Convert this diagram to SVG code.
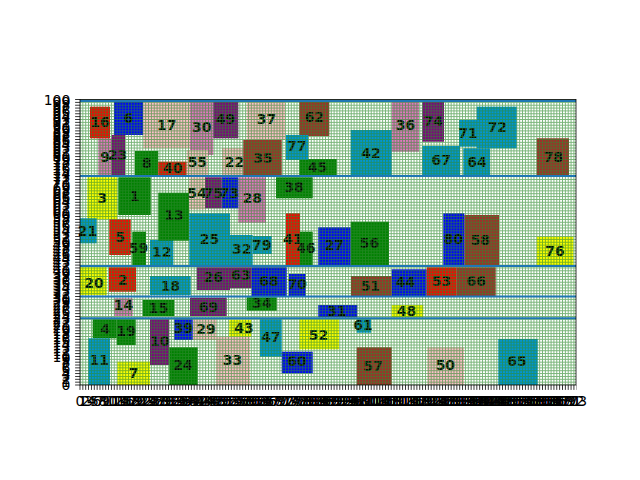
<svg xmlns="http://www.w3.org/2000/svg" width="640" height="480" viewBox="0 0 640 480">
<style>
.r{fill:#ff0000}.b{fill:#0000ff}.g{fill:#008000}.y{fill:#ffff00}.p{fill:#800080}.br{fill:#a52a2a}.lp{fill:#ffc0cb}.hp{fill:#e377c2}.lb{fill:#0095d9}
.n text{font-family:"DejaVu Sans",sans-serif;font-weight:bold;font-size:13.9px;text-anchor:middle;fill:#000}
.t{font-family:"DejaVu Sans",sans-serif;font-size:13.9px;fill:#000}
.ty{text-anchor:end}.tx{text-anchor:middle}
.shelf{stroke:#1f77b4;stroke-width:2;fill:none}
</style>
<defs>
<pattern id="grid" patternUnits="userSpaceOnUse" x="-1.37" y="1.0" width="2.855" height="2.855">
<path d="M1.43 0V2.855M0 1.43H2.855" stroke="#2e8b2e" stroke-width="1" fill="none" shape-rendering="crispEdges"/>
</pattern>
<pattern id="yt" patternUnits="userSpaceOnUse" x="0" y="1.0" width="10" height="2.855">
<path d="M0 1.43H10" stroke="#000" stroke-width="0.8"/>
</pattern>
<pattern id="xt" patternUnits="userSpaceOnUse" x="-1.37" y="0" width="2.855" height="10">
<path d="M1.43 0V10" stroke="#000" stroke-width="0.8"/>
</pattern>
</defs>
<rect width="640" height="480" fill="#fff"/>
<g id="nodes" class="n">
<g id="n1"><rect class="g" x="118.3" y="177.3" width="32.4" height="37.7"/><text x="134.5" y="201">1</text></g>
<g id="n2"><rect class="r" x="109" y="267.3" width="27" height="24.4"/><text x="122.5" y="284.5">2</text></g>
<g id="n3"><rect class="y" x="87.3" y="177.3" width="30" height="42"/><text x="102.3" y="203">3</text></g>
<g id="n4"><rect class="g" x="92.7" y="319.3" width="24" height="19"/><text x="105" y="333.5">4</text></g>
<g id="n5"><rect class="r" x="109.3" y="219.3" width="21.4" height="35.7"/><text x="120" y="242">5</text></g>
<g id="n6"><rect class="b" x="114" y="101.7" width="29.3" height="33.3"/><text x="128.7" y="123">6</text></g>
<g id="n7"><rect class="y" x="117.3" y="361.7" width="32.7" height="23.3"/><text x="133.7" y="378.3">7</text></g>
<g id="n8"><rect class="g" x="135" y="151" width="23.3" height="24"/><text x="146.7" y="168">8</text></g>
<g id="n9"><rect class="hp" x="98.3" y="138.3" width="13.4" height="36.7"/><text x="105" y="161.7">9</text></g>
<g id="n10"><rect class="p" x="150" y="319.3" width="19.3" height="45.7"/><text x="159.7" y="346">10</text></g>
<g id="n11"><rect class="lb" x="88.3" y="338.3" width="21.7" height="46.7"/><text x="99.2" y="365">11</text></g>
<g id="n12"><rect class="lb" x="150" y="240" width="23.3" height="25"/><text x="161.7" y="257">12</text></g>
<g id="n13"><rect class="g" x="158.3" y="192.7" width="31" height="48"/><text x="174" y="220">13</text></g>
<g id="n14"><rect class="hp" x="114.3" y="298.3" width="18.4" height="17.7"/><text x="123.5" y="310">14</text></g>
<g id="n15"><rect class="g" x="142.7" y="300" width="31.6" height="16"/><text x="158.5" y="313">15</text></g>
<g id="n16"><rect class="r" x="90" y="106.7" width="20" height="31.6"/><text x="100" y="127">16</text></g>
<g id="n17"><rect class="lp" x="143.3" y="101.7" width="46.7" height="46.6"/><text x="166.7" y="130">17</text></g>
<g id="n18"><rect class="lb" x="150" y="276" width="40.7" height="19"/><text x="170.3" y="291">18</text></g>
<g id="n19"><rect class="g" x="116.7" y="319.3" width="19" height="25.7"/><text x="126.2" y="336">19</text></g>
<g id="n20"><rect class="y" x="80" y="267.3" width="26.7" height="27.7"/><text x="94" y="288.3">20</text></g>
<g id="n21"><rect class="lb" x="80" y="218.3" width="16.7" height="25"/><text x="87.5" y="235.7">21</text></g>
<g id="n22"><rect class="lp" x="222" y="148" width="24" height="27"/><text x="234.5" y="166.7">22</text></g>
<g id="n23"><rect class="p" x="111.7" y="135" width="13.3" height="40"/><text x="117.5" y="160">23</text></g>
<g id="n24"><rect class="g" x="169.3" y="347.3" width="28.4" height="37.7"/><text x="182.8" y="370">24</text></g>
<g id="n25"><rect class="lb" x="189.3" y="213.3" width="40.7" height="51.7"/><text x="209.5" y="244">25</text></g>
<g id="n26"><rect class="p" x="196.7" y="267.3" width="33.3" height="22.7"/><text x="213.3" y="282.3">26</text></g>
<g id="n27"><rect class="b" x="318.3" y="227.3" width="32.4" height="37.7"/><text x="334.3" y="250">27</text></g>
<g id="n28"><rect class="hp" x="238.3" y="177.3" width="27.7" height="45.4"/><text x="252.3" y="203.3">28</text></g>
<g id="n29"><rect class="lp" x="192.7" y="319.3" width="24" height="20.7"/><text x="206" y="334.3">29</text></g>
<g id="n30"><rect class="hp" x="190" y="101.7" width="23.3" height="53.3"/><text x="201.7" y="132.3">30</text></g>
<g id="n31"><rect class="b" x="318.3" y="305" width="39" height="12.3"/><text x="337" y="316">31</text></g>
<g id="n32"><rect class="lb" x="230" y="235" width="22.7" height="30"/><text x="241.7" y="254">32</text></g>
<g id="n33"><rect class="lp" x="216" y="336.7" width="34" height="48.3"/><text x="232.5" y="365">33</text></g>
<g id="n34"><rect class="g" x="246.7" y="297.3" width="30" height="13.4"/><text x="261.7" y="308.3">34</text></g>
<g id="n35"><rect class="br" x="243.3" y="140" width="38.4" height="35"/><text x="263" y="163.3">35</text></g>
<g id="n36"><rect class="hp" x="391.7" y="101.7" width="27.3" height="50"/><text x="405.5" y="130">36</text></g>
<g id="n37"><rect class="lp" x="246.7" y="101.7" width="38.3" height="38.3"/><text x="266.5" y="124.3">37</text></g>
<g id="n38"><rect class="g" x="276" y="177.3" width="36.7" height="21"/><text x="294" y="191.7">38</text></g>
<g id="n39"><rect class="b" x="174.3" y="319.3" width="18.4" height="20.7"/><text x="183.5" y="333.3">39</text></g>
<g id="n40"><rect class="r" x="158.3" y="161.7" width="28.4" height="13.3"/><text x="172.7" y="173.3">40</text></g>
<g id="n41"><rect class="r" x="286" y="213.3" width="14" height="51.7"/><text x="292.7" y="244.3">41</text></g>
<g id="n42"><rect class="lb" x="350.7" y="130" width="41" height="45"/><text x="371" y="158.3">42</text></g>
<g id="n43"><rect class="y" x="229.3" y="320" width="22" height="16.7"/><text x="244" y="333.3">43</text></g>
<g id="n44"><rect class="b" x="391.7" y="269.3" width="35" height="26.7"/><text x="405.5" y="287.3">44</text></g>
<g id="n45"><rect class="g" x="299.3" y="159" width="37.4" height="16"/><text x="317.5" y="172.3">45</text></g>
<g id="n46"><rect class="g" x="300" y="231.7" width="12.7" height="33.3"/><text x="306" y="253.3">46</text></g>
<g id="n47"><rect class="lb" x="260" y="319.3" width="21.7" height="37.4"/><text x="270.8" y="342.3">47</text></g>
<g id="n48"><rect class="y" x="391.7" y="305" width="31.6" height="12.3"/><text x="406.5" y="316">48</text></g>
<g id="n49"><rect class="p" x="213.3" y="101.7" width="25" height="36.6"/><text x="225.5" y="124.3">49</text></g>
<g id="n50"><rect class="lp" x="427.3" y="347.3" width="36.7" height="37.7"/><text x="445.3" y="370">50</text></g>
<g id="n51"><rect class="br" x="351" y="276" width="40.7" height="20"/><text x="370.3" y="291">51</text></g>
<g id="n52"><rect class="y" x="299.3" y="319.3" width="39.7" height="30"/><text x="318.5" y="340">52</text></g>
<g id="n53"><rect class="r" x="426.7" y="267.3" width="30" height="28.7"/><text x="441.3" y="285.7">53</text></g>
<g id="n54"><rect class="lp" x="189.3" y="177.3" width="15.7" height="32"/><text x="197" y="198.3">54</text></g>
<g id="n55"><rect class="lp" x="186.7" y="150" width="21.3" height="25"/><text x="197.3" y="166.7">55</text></g>
<g id="n56"><rect class="g" x="350.7" y="221.7" width="38.3" height="43.3"/><text x="369.5" y="247.7">56</text></g>
<g id="n57"><rect class="br" x="356.7" y="347.3" width="35" height="37.7"/><text x="373" y="370.7">57</text></g>
<g id="n58"><rect class="br" x="464.3" y="215" width="34.7" height="50"/><text x="480.3" y="245">58</text></g>
<g id="n59"><rect class="g" x="132.3" y="231.7" width="13.7" height="33.3"/><text x="138.5" y="253.3">59</text></g>
<g id="n60"><rect class="b" x="281.7" y="351.7" width="31" height="21.6"/><text x="297" y="365.7">60</text></g>
<g id="n61"><rect class="lb" x="356.7" y="319.3" width="14.3" height="13.4"/><text x="363" y="330">61</text></g>
<g id="n62"><rect class="br" x="299.3" y="101.7" width="30" height="34.3"/><text x="314.3" y="121.7">62</text></g>
<g id="n63"><rect class="p" x="230" y="267.3" width="21.7" height="21"/><text x="241" y="280">63</text></g>
<g id="n64"><rect class="lb" x="463.3" y="148.3" width="26.7" height="26.7"/><text x="477" y="166.7">64</text></g>
<g id="n65"><rect class="lb" x="498.3" y="339" width="39.4" height="46"/><text x="517" y="365.7">65</text></g>
<g id="n66"><rect class="br" x="456.7" y="267.3" width="39" height="28.7"/><text x="476.2" y="285.7">66</text></g>
<g id="n67"><rect class="lb" x="422.3" y="146" width="37.7" height="29"/><text x="441.2" y="165">67</text></g>
<g id="n68"><rect class="b" x="251.7" y="267.3" width="35" height="28.7"/><text x="269" y="285.7">68</text></g>
<g id="n69"><rect class="p" x="190" y="297.7" width="36.7" height="18.3"/><text x="208.5" y="312.3">69</text></g>
<g id="n70"><rect class="b" x="289" y="274" width="16.7" height="22"/><text x="297.3" y="289">70</text></g>
<g id="n71"><rect class="lb" x="459" y="120" width="19.3" height="26.7"/><text x="468" y="138.3">71</text></g>
<g id="n72"><rect class="lb" x="476.7" y="106.7" width="40" height="41.6"/><text x="497.3" y="132.3">72</text></g>
<g id="n73"><rect class="b" x="221.7" y="177.3" width="16.6" height="31"/><text x="229.5" y="198.3">73</text></g>
<g id="n74"><rect class="p" x="422.3" y="101.7" width="21.7" height="40"/><text x="433.3" y="125.7">74</text></g>
<g id="n75"><rect class="p" x="205" y="177.3" width="16.7" height="31"/><text x="213.3" y="198.3">75</text></g>
<g id="n76"><rect class="y" x="536.7" y="236.7" width="36.6" height="28.3"/><text x="555" y="255.7">76</text></g>
<g id="n77"><rect class="lb" x="286" y="135" width="22.3" height="25"/><text x="296.7" y="151">77</text></g>
<g id="n78"><rect class="br" x="536.7" y="138.3" width="32.3" height="36.7"/><text x="553.3" y="162.3">78</text></g>
<g id="n79"><rect class="lb" x="252.7" y="236" width="19" height="18"/><text x="261.7" y="250">79</text></g>
<g id="n80"><rect class="b" x="443.3" y="213.3" width="21" height="51.7"/><text x="453.5" y="244">80</text></g>
</g>
<rect x="80" y="99.5" width="496" height="285.5" fill="url(#grid)" opacity="0.65"/>
<g id="connectors">
<path class="shelf" d="M80 101H576M80 176H576M80 266H576M80 296.5H576M80 318.3H576"/>
</g>
<rect x="80" y="99.5" width="496" height="285.5" fill="none" stroke="#000" stroke-width="0.8"/>
<rect x="75.1" y="98" width="4.9" height="288.5" fill="url(#yt)"/>
<rect x="78.5" y="385" width="498" height="4.9" fill="url(#xt)"/>
<g class="t ty" transform="translate(70.3,5)">
<text y="385.0">0</text><text y="382.1">1</text><text y="379.3">2</text><text y="376.4">3</text><text y="373.6">4</text><text y="370.7">5</text><text y="367.9">6</text><text y="365.0">7</text><text y="362.2">8</text><text y="359.3">9</text>
<text y="356.5">10</text><text y="353.6">11</text><text y="350.7">12</text><text y="347.9">13</text><text y="345.0">14</text><text y="342.2">15</text><text y="339.3">16</text><text y="336.5">17</text><text y="333.6">18</text><text y="330.8">19</text>
<text y="327.9">20</text><text y="325.0">21</text><text y="322.2">22</text><text y="319.3">23</text><text y="316.5">24</text><text y="313.6">25</text><text y="310.8">26</text><text y="307.9">27</text><text y="305.1">28</text><text y="302.2">29</text>
<text y="299.4">30</text><text y="296.5">31</text><text y="293.6">32</text><text y="290.8">33</text><text y="287.9">34</text><text y="285.1">35</text><text y="282.2">36</text><text y="279.4">37</text><text y="276.5">38</text><text y="273.7">39</text>
<text y="270.8">40</text><text y="267.9">41</text><text y="265.1">42</text><text y="262.2">43</text><text y="259.4">44</text><text y="256.5">45</text><text y="253.7">46</text><text y="250.8">47</text><text y="248.0">48</text><text y="245.1">49</text>
<text y="242.3">50</text><text y="239.4">51</text><text y="236.5">52</text><text y="233.7">53</text><text y="230.8">54</text><text y="228.0">55</text><text y="225.1">56</text><text y="222.3">57</text><text y="219.4">58</text><text y="216.6">59</text>
<text y="213.7">60</text><text y="210.8">61</text><text y="208.0">62</text><text y="205.1">63</text><text y="202.3">64</text><text y="199.4">65</text><text y="196.6">66</text><text y="193.7">67</text><text y="190.9">68</text><text y="188.0">69</text>
<text y="185.2">70</text><text y="182.3">71</text><text y="179.4">72</text><text y="176.6">73</text><text y="173.7">74</text><text y="170.9">75</text><text y="168.0">76</text><text y="165.2">77</text><text y="162.3">78</text><text y="159.5">79</text>
<text y="156.6">80</text><text y="153.7">81</text><text y="150.9">82</text><text y="148.0">83</text><text y="145.2">84</text><text y="142.3">85</text><text y="139.5">86</text><text y="136.6">87</text><text y="133.8">88</text><text y="130.9">89</text>
<text y="128.1">90</text><text y="125.2">91</text><text y="122.3">92</text><text y="119.5">93</text><text y="116.6">94</text><text y="113.8">95</text><text y="110.9">96</text><text y="108.1">97</text><text y="105.2">98</text><text y="102.4">99</text>
<text y="99.5">100</text>
</g>
<g class="t tx" transform="translate(0,405.5)">
<text x="80.0">0</text><text x="82.9">1</text><text x="85.7">2</text><text x="88.6">3</text><text x="91.4">4</text><text x="94.3">5</text><text x="97.1">6</text><text x="100.0">7</text><text x="102.8">8</text><text x="105.7">9</text>
<text x="108.6">10</text><text x="111.4">11</text><text x="114.3">12</text><text x="117.1">13</text><text x="120.0">14</text><text x="122.8">15</text><text x="125.7">16</text><text x="128.5">17</text><text x="131.4">18</text><text x="134.2">19</text>
<text x="137.1">20</text><text x="140.0">21</text><text x="142.8">22</text><text x="145.7">23</text><text x="148.5">24</text><text x="151.4">25</text><text x="154.2">26</text><text x="157.1">27</text><text x="159.9">28</text><text x="162.8">29</text>
<text x="165.7">30</text><text x="168.5">31</text><text x="171.4">32</text><text x="174.2">33</text><text x="177.1">34</text><text x="179.9">35</text><text x="182.8">36</text><text x="185.6">37</text><text x="188.5">38</text><text x="191.3">39</text>
<text x="194.2">40</text><text x="197.1">41</text><text x="199.9">42</text><text x="202.8">43</text><text x="205.6">44</text><text x="208.5">45</text><text x="211.3">46</text><text x="214.2">47</text><text x="217.0">48</text><text x="219.9">49</text>
<text x="222.8">50</text><text x="225.6">51</text><text x="228.5">52</text><text x="231.3">53</text><text x="234.2">54</text><text x="237.0">55</text><text x="239.9">56</text><text x="242.7">57</text><text x="245.6">58</text><text x="248.4">59</text>
<text x="251.3">60</text><text x="254.2">61</text><text x="257.0">62</text><text x="259.9">63</text><text x="262.7">64</text><text x="265.6">65</text><text x="268.4">66</text><text x="271.3">67</text><text x="274.1">68</text><text x="277.0">69</text>
<text x="279.9">70</text><text x="282.7">71</text><text x="285.6">72</text><text x="288.4">73</text><text x="291.3">74</text><text x="294.1">75</text><text x="297.0">76</text><text x="299.8">77</text><text x="302.7">78</text><text x="305.5">79</text>
<text x="308.4">80</text><text x="311.3">81</text><text x="314.1">82</text><text x="317.0">83</text><text x="319.8">84</text><text x="322.7">85</text><text x="325.5">86</text><text x="328.4">87</text><text x="331.2">88</text><text x="334.1">89</text>
<text x="337.0">90</text><text x="339.8">91</text><text x="342.7">92</text><text x="345.5">93</text><text x="348.4">94</text><text x="351.2">95</text><text x="354.1">96</text><text x="356.9">97</text><text x="359.8">98</text><text x="362.6">99</text>
<text x="365.5">100</text><text x="368.4">101</text><text x="371.2">102</text><text x="374.1">103</text><text x="376.9">104</text><text x="379.8">105</text><text x="382.6">106</text><text x="385.5">107</text><text x="388.3">108</text><text x="391.2">109</text>
<text x="394.1">110</text><text x="396.9">111</text><text x="399.8">112</text><text x="402.6">113</text><text x="405.5">114</text><text x="408.3">115</text><text x="411.2">116</text><text x="414.0">117</text><text x="416.9">118</text><text x="419.7">119</text>
<text x="422.6">120</text><text x="425.5">121</text><text x="428.3">122</text><text x="431.2">123</text><text x="434.0">124</text><text x="436.9">125</text><text x="439.7">126</text><text x="442.6">127</text><text x="445.4">128</text><text x="448.3">129</text>
<text x="451.2">130</text><text x="454.0">131</text><text x="456.9">132</text><text x="459.7">133</text><text x="462.6">134</text><text x="465.4">135</text><text x="468.3">136</text><text x="471.1">137</text><text x="474.0">138</text><text x="476.8">139</text>
<text x="479.7">140</text><text x="482.6">141</text><text x="485.4">142</text><text x="488.3">143</text><text x="491.1">144</text><text x="494.0">145</text><text x="496.8">146</text><text x="499.7">147</text><text x="502.5">148</text><text x="505.4">149</text>
<text x="508.3">150</text><text x="511.1">151</text><text x="514.0">152</text><text x="516.8">153</text><text x="519.7">154</text><text x="522.5">155</text><text x="525.4">156</text><text x="528.2">157</text><text x="531.1">158</text><text x="533.9">159</text>
<text x="536.8">160</text><text x="539.7">161</text><text x="542.5">162</text><text x="545.4">163</text><text x="548.2">164</text><text x="551.1">165</text><text x="553.9">166</text><text x="556.8">167</text><text x="559.6">168</text><text x="562.5">169</text>
<text x="565.4">170</text><text x="568.2">171</text><text x="571.1">172</text><text x="573.9">173</text>
</g>
</svg>
